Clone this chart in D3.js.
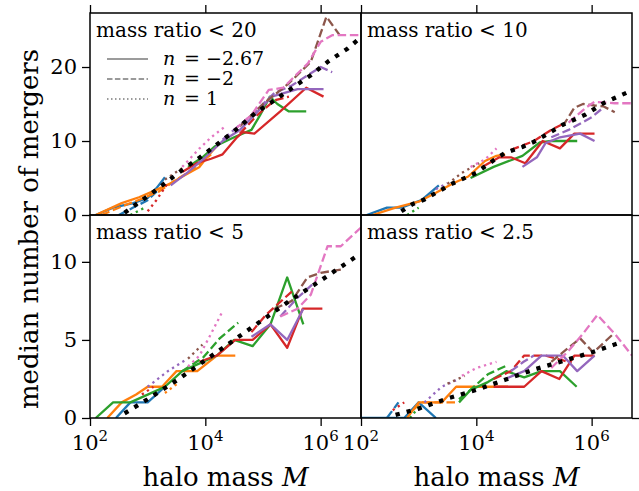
<!DOCTYPE html>
<html><head><meta charset="utf-8">
<script src="https://cdn.jsdelivr.net/npm/d3@7"></script>
<style>body{margin:0;background:#fff} svg{display:block}</style>
</head><body><svg id="c" width="639" height="491"></svg>
<script>
// ---------- data: [log10 M, median number of mergers] ----------
const tl_fit = [[2.6,0.3],[2.83,1.6],[3.15,3.4],[3.3,4.3],[3.62,6.2],[3.91,7.8],[4.23,9.7],[4.56,11.7],[4.87,13.8],[5.18,15.4],[5.53,17.3],[5.83,18.9],[6.14,20.8],[6.47,22.5],[6.65,23.7]];
const tl_blue_solid = [[2.1,0],[2.4,1],[2.75,1.6],[3.0,2.3],[3.15,3.6],[3.3,5.1]];
const tl_blue_dashed = [[2.5,0],[2.75,1],[3.0,2],[3.2,3.5]];
const tl_orange_solid = [[2.1,0],[2.55,1.6],[2.85,2.4],[3.15,3.4],[3.4,4.3],[3.65,5.4],[3.9,6.5],[4.05,8],[4.22,9.5]];
const tl_orange_dashed = [[2.2,0],[2.6,1.3],[2.9,2.2],[3.2,3.2],[3.5,4.8],[3.8,6.2],[4.1,8.2]];
const tl_green_dotted = [[2.7,0],[2.95,1]];
const tl_green_solid = [[3.7,6.5],[3.95,7.8],[4.17,9.3],[4.5,10.5],[4.8,11.5],[4.95,13.5],[5.12,16],[5.25,15],[5.45,14],[5.75,14]];
const tl_red_dotted = [[3.0,0.5],[3.15,2],[3.35,4.3]];
const tl_red_solid = [[3.6,5.8],[3.85,7],[4.1,7.6],[4.3,8.2],[4.55,10.5],[4.65,11.2],[4.85,11],[5.3,14],[5.75,17.2],[6.05,16]];
const tl_red_dashed = [[4.6,11],[4.9,13.5],[5.2,15.5],[5.45,16]];
const tl_purple_solid = [[3.4,4],[3.7,5.8],[4.0,7.8],[4.3,10],[4.6,11.5],[4.85,13.5],[5.15,16],[5.6,17],[6.05,17]];
const tl_purple_dashed = [[4.3,10.2],[4.8,13.5],[5.2,16.5],[5.5,17.5],[5.8,19],[6.0,20],[6.2,19.3]];
const tl_brown_dotted = [[3.3,4.8],[3.65,6.6]];
const tl_brown_dashed = [[4.6,12],[5.0,15],[5.45,17.8],[5.83,20.7],[6.1,26.8],[6.33,24.3]];
const tl_pink_dotted = [[3.6,6.5],[3.9,9],[4.1,10.5],[4.35,12]];
const tl_pink_dashed = [[4.5,11.5],[4.8,13.5],[5.1,16.9],[5.35,17.2],[5.78,20.5],[6.0,23.4],[6.2,24.3],[6.7,24.3]];

const tr_fit = [[2.7,0.5],[2.9,1.5],[3.1,2.1],[3.3,3],[3.6,4.3],[4.0,5.7],[4.3,7.4],[4.5,8.4],[4.8,9.2],[5.0,9.9],[5.2,10.8],[5.5,12.2],[5.9,13.6],[6.2,15.1],[6.6,16.5]];
const tr_blue_solid = [[2.1,0],[2.45,1],[2.7,1],[3.05,2],[3.35,4]];
const tr_orange_solid = [[2.2,0],[2.6,1],[3.0,1.8],[3.3,3],[3.6,4.3],[3.86,5.2],[4.15,7.3],[4.35,8],[4.5,8.2]];
const tr_green_dotted = [[2.8,0],[3.0,1]];
const tr_green_solid = [[3.9,5],[4.3,6.5],[4.8,8],[5.1,9.8],[5.3,10],[5.75,10]];
const tr_red_solid = [[4.1,6.5],[4.4,7.8],[4.6,7.8],[4.85,7],[5.15,10],[5.45,9],[5.7,11],[6.05,11]];
const tr_red_dashed = [[4.6,8.8],[5.0,10],[5.3,11.5],[5.55,12.5]];
const tr_purple_dotted = [[3.3,3.5],[3.5,4.3]];
const tr_purple_solid = [[4.8,6.5],[5.05,7.8],[5.2,9.7],[5.45,10.5],[5.8,11],[6.05,10]];
const tr_purple_dashed = [[5.3,10.5],[5.6,11.5],[6.0,13.2],[6.2,14.5]];
const tr_brown_dotted = [[3.5,4.2],[3.75,5.7],[4.05,7]];
const tr_brown_dashed = [[5.5,12],[5.7,14.5],[5.85,15],[6.05,14.8],[6.2,14.7],[6.4,13.9]];
const tr_pink_dotted = [[3.9,6.5],[4.15,7.5],[4.35,9]];
const tr_pink_dashed = [[5.6,12.5],[5.9,14.5],[6.05,15.3],[6.4,15.1],[6.75,15.1]];

const bl_fit = [[2.6,0.3],[3.0,1.2],[3.5,2.4],[4.0,3.7],[4.5,5.0],[5.0,6.3],[5.5,7.6],[6.0,8.8],[6.6,10.3]];
const bl_green_solid = [[2.1,0],[2.4,1],[2.7,1],[3.0,1.5],[3.3,2],[3.6,3],[3.9,3.5],[4.2,4],[4.5,5],[4.82,4.6],[5.13,6],[5.42,9],[5.7,6]];
const bl_green_dashed = [[3.6,3],[3.97,3.9],[4.25,5.1],[4.57,6.1]];
const bl_blue_solid = [[2.45,0],[2.7,1],[3.0,1],[3.3,2]];
const bl_orange_solid = [[2.3,0],[2.55,1],[2.8,1.5],[3.0,2],[3.25,2],[3.5,3],[3.86,3],[4.2,4],[4.52,4]];
const bl_orange_dotted = [[3.3,1.6],[3.55,2.3]];
const bl_red_dotted = [[2.9,1.5],[3.1,2]];
const bl_red_solid = [[3.9,3.6],[4.2,4],[4.52,5],[4.82,5],[5.13,6],[5.42,4.5],[5.69,7],[6.03,7]];
const bl_red_dashed = [[4.8,5.5],[5.05,6.6],[5.5,8.1]];
const bl_purple_dotted = [[3.0,2],[3.35,3],[3.65,3.7]];
const bl_purple_solid = [[4.8,5.2],[5.13,6],[5.42,5],[5.7,7]];
const bl_purple_dashed = [[5.3,6.5],[5.6,7.7],[5.9,8.7]];
const bl_brown_dotted = [[3.7,3.8],[3.95,4.7]];
const bl_brown_dashed = [[5.2,7],[5.5,7.5],[5.77,9],[6.0,9.3],[6.35,9.5]];
const bl_pink_dotted = [[3.7,3.3],[3.9,4],[4.1,5.4],[4.28,6.7]];
const bl_pink_dashed = [[5.3,6.5],[5.6,7],[5.83,7.9],[6.12,11],[6.35,11],[6.7,12.2]];

const br_fit = [[2.6,0.2],[3.0,0.6],[3.5,1.25],[4.0,1.8],[4.5,2.45],[5.0,3.1],[5.5,3.65],[6.0,4.2],[6.55,4.9]];
const br_blue_solid = [[2.0,0],[2.5,0],[2.75,0],[3.0,1],[3.3,0]];
const br_blue_dashed = [[2.45,0],[2.65,1]];
const br_orange_solid = [[2.8,0],[3.0,1],[3.4,1],[3.65,2],[4.55,2]];
const br_orange_dashed = [[2.9,0.5],[3.05,1],[3.65,1]];
const br_green_dotted = [[2.85,0],[3.0,0.7]];
const br_green_solid = [[3.7,1],[3.9,1.8],[4.2,2.3],[4.52,3],[4.83,2.6],[5.13,3],[5.45,3],[5.74,2]];
const br_green_dashed = [[3.7,1.2],[3.9,1.8],[4.2,2.8],[4.55,3.4]];
const br_red_dotted = [[2.55,0.5],[2.75,1]];
const br_red_solid = [[4.3,2],[4.55,2],[4.83,2],[5.13,3],[5.44,2.5],[5.7,4],[6.05,4]];
const br_red_dashed = [[4.3,2.5],[4.6,3],[4.83,4],[5.2,4],[5.5,3.7],[5.65,3.5]];
const br_purple_dotted = [[3.1,1],[3.4,2],[3.7,2.5]];
const br_purple_solid = [[4.5,2.5],[4.83,3],[5.13,4],[5.5,4],[5.75,3],[6.05,4]];
const br_purple_dashed = [[4.6,3],[4.82,3.6],[5.0,4]];
const br_brown_dotted = [[3.5,2.2],[3.8,2.7]];
const br_brown_dashed = [[5.3,3.6],[5.5,4.2],[5.8,5.1],[6.03,4.2],[6.38,5.4]];
const br_pink_dotted = [[3.75,2.7],[4.0,3.2],[4.35,3.6]];
const br_pink_dashed = [[5.3,3.2],[5.6,4.3],[5.85,5.4],[6.1,6.6],[6.4,5.4],[6.7,4]];

const titles = ["mass ratio < 20", "mass ratio < 10", "mass ratio < 5", "mass ratio < 2.5"];
const xTickVals = [1e2, 1e4, 1e6];
const xTickExp = ["2", "4", "6"];
const yTicksTop = [0, 10, 20];
const yTicksBot = [0, 5, 10];
const legendLabels = ["\u22122.67", "\u22122", "1"];
const legendStyles = ["solid", "dashed", "dotted"];

const colors = {blue:"#1f77b4", orange:"#ff7f0e", green:"#2ca02c", red:"#d62728", purple:"#9467bd", brown:"#8c564b", pink:"#e377c2"};
const dashes = {solid:null, dashed:"8.5,3.7", dotted:"2.3,3.8"};

const panels = [
  {title:titles[0], col:0, row:0, fit:tl_fit, series:[
    ["blue","solid",tl_blue_solid],["blue","dashed",tl_blue_dashed],
    ["orange","solid",tl_orange_solid],["orange","dashed",tl_orange_dashed],
    ["green","dotted",tl_green_dotted],["green","solid",tl_green_solid],
    ["red","dotted",tl_red_dotted],["red","solid",tl_red_solid],["red","dashed",tl_red_dashed],
    ["purple","solid",tl_purple_solid],["purple","dashed",tl_purple_dashed],
    ["brown","dotted",tl_brown_dotted],["brown","dashed",tl_brown_dashed],
    ["pink","dotted",tl_pink_dotted],["pink","dashed",tl_pink_dashed]]},
  {title:titles[1], col:1, row:0, fit:tr_fit, series:[
    ["blue","solid",tr_blue_solid],["orange","solid",tr_orange_solid],
    ["green","dotted",tr_green_dotted],["green","solid",tr_green_solid],
    ["red","solid",tr_red_solid],["red","dashed",tr_red_dashed],
    ["purple","dotted",tr_purple_dotted],["purple","solid",tr_purple_solid],["purple","dashed",tr_purple_dashed],
    ["brown","dotted",tr_brown_dotted],["brown","dashed",tr_brown_dashed],
    ["pink","dotted",tr_pink_dotted],["pink","dashed",tr_pink_dashed]]},
  {title:titles[2], col:0, row:1, fit:bl_fit, series:[
    ["blue","solid",bl_blue_solid],
    ["orange","solid",bl_orange_solid],["orange","dotted",bl_orange_dotted],
    ["green","solid",bl_green_solid],["green","dashed",bl_green_dashed],
    ["red","dotted",bl_red_dotted],["red","solid",bl_red_solid],["red","dashed",bl_red_dashed],
    ["purple","dotted",bl_purple_dotted],["purple","solid",bl_purple_solid],["purple","dashed",bl_purple_dashed],
    ["brown","dotted",bl_brown_dotted],["brown","dashed",bl_brown_dashed],
    ["pink","dotted",bl_pink_dotted],["pink","dashed",bl_pink_dashed]]},
  {title:titles[3], col:1, row:1, fit:br_fit, series:[
    ["blue","solid",br_blue_solid],["blue","dashed",br_blue_dashed],
    ["orange","solid",br_orange_solid],["orange","dashed",br_orange_dashed],
    ["green","dotted",br_green_dotted],["green","solid",br_green_solid],["green","dashed",br_green_dashed],
    ["red","dotted",br_red_dotted],["red","solid",br_red_solid],["red","dashed",br_red_dashed],
    ["purple","dotted",br_purple_dotted],["purple","solid",br_purple_solid],["purple","dashed",br_purple_dashed],
    ["brown","dotted",br_brown_dotted],["brown","dashed",br_brown_dashed],
    ["pink","dotted",br_pink_dotted],["pink","dashed",br_pink_dashed]]}
];

// ---------- layout ----------
const FONT = "DejaVu Serif";
const svg = d3.select("#c");
const colX = [[90, 361], [361, 632]];
const rowY = [[13, 215], [215, 418]];
const xScales = colX.map(r => d3.scaleLog().domain([1e2, Math.pow(10, 6.7)]).range(r));
const yScales = [
  d3.scaleLinear().domain([0, 27.3]).range([rowY[0][1], rowY[0][0]]),
  d3.scaleLinear().domain([0, 13]).range([rowY[1][1], rowY[1][0]])
];
const TICK = 8;

const defs = svg.append("defs");

panels.forEach((p, i) => {
  const x = xScales[p.col], y = yScales[p.row];
  const x0 = colX[p.col][0], x1 = colX[p.col][1];
  const y0 = rowY[p.row][0], y1 = rowY[p.row][1];
  defs.append("clipPath").attr("id", "clip" + i)
    .append("rect").attr("x", x0).attr("y", y0).attr("width", x1 - x0).attr("height", y1 - y0);
  const g = svg.append("g").attr("clip-path", `url(#clip${i})`);
  const line = d3.line().x(d => x(Math.pow(10, d[0]))).y(d => y(d[1]));
  const order = ["blue","orange","green","red","purple","brown","pink"];
  order.forEach(c => {
    p.series.filter(s => s[0] === c).forEach(s => {
      g.append("path").attr("d", line(s[2]))
        .attr("fill", "none").attr("stroke", colors[c])
        .attr("stroke-width", 2.3)
        .attr("stroke-linejoin", "round")
        .attr("stroke-dasharray", dashes[s[1]]);
    });
  });
  g.append("path").attr("d", line(p.fit))
    .attr("fill", "none").attr("stroke", "#000")
    .attr("stroke-width", 4.3).attr("stroke-dasharray", "4.3,7.1");

  // title
  svg.append("text").attr("x", x0 + 6).attr("y", y0 + 24)
    .attr("font-family", FONT).attr("font-size", 20).attr("fill", "#000")
    .text(p.title);

  // y axis (left col on left, right col on right, no labels for right)
  const ticks = p.row === 0 ? yTicksTop : yTicksBot;
  if (p.col === 0) {
    const ax = svg.append("g").attr("transform", `translate(${x0},0)`)
      .call(d3.axisLeft(y).tickValues(ticks).tickSize(TICK).tickPadding(5).tickFormat(d3.format("d")));
    ax.select(".domain").remove();
    ax.selectAll("line").attr("stroke", "#000").attr("stroke-width", 1.3);
    ax.selectAll("text").attr("font-family", FONT).attr("font-size", 21).attr("fill", "#000");
  } else {
    const ax = svg.append("g").attr("transform", `translate(${x1},0)`)
      .call(d3.axisRight(y).tickValues(ticks).tickSize(TICK).tickFormat(""));
    ax.select(".domain").remove();
    ax.selectAll("line").attr("stroke", "#000").attr("stroke-width", 1.3);
  }
  // x ticks: top row -> top edge, bottom row -> bottom edge with labels
  if (p.row === 0) {
    const ax = svg.append("g").attr("transform", `translate(0,${y0})`)
      .call(d3.axisTop(x).tickValues(xTickVals).tickSize(TICK).tickFormat(""));
    ax.select(".domain").remove();
    ax.selectAll("line").attr("stroke", "#000").attr("stroke-width", 1.3);
  } else {
    const ax = svg.append("g").attr("transform", `translate(0,${y1})`)
      .call(d3.axisBottom(x).tickValues(xTickVals).tickSize(TICK).tickFormat(""));
    ax.select(".domain").remove();
    ax.selectAll("line").attr("stroke", "#000").attr("stroke-width", 1.3);
    xTickVals.forEach((v, k) => {
      const t = svg.append("text").attr("x", x(v)).attr("y", 450)
        .attr("text-anchor", "middle").attr("font-family", FONT).attr("font-size", 21).attr("fill", "#000");
      t.append("tspan").text("10");
      t.append("tspan").attr("dy", -9).attr("font-size", 15).text(xTickExp[k]);
    });
    const lab = svg.append("text").attr("x", (x0 + x1) / 2).attr("y", 486)
      .attr("text-anchor", "middle").attr("font-family", FONT).attr("font-size", 26).attr("fill", "#000");
    lab.append("tspan").text("halo mass ");
    lab.append("tspan").attr("font-style", "italic").text("M");
  }
  // frame
  svg.append("rect").attr("x", x0).attr("y", y0).attr("width", x1 - x0).attr("height", y1 - y0)
    .attr("fill", "none").attr("stroke", "#000").attr("stroke-width", 1.5);
});

// legend (top-left panel)
const lg = svg.append("g");
legendStyles.forEach((s, k) => {
  const ly = 59 + k * 20;
  lg.append("line").attr("x1", 107).attr("x2", 148).attr("y1", ly).attr("y2", ly)
    .attr("stroke", "#7a7a7a").attr("stroke-width", 1.5)
    .attr("stroke-dasharray", s === "solid" ? null : (s === "dashed" ? "5.5,2.4" : "1.5,2.5"));
  lg.append("text").attr("x", 163).attr("y", ly + 6)
    .attr("font-family", FONT).attr("font-size", 19).attr("font-style", "italic").attr("fill", "#000")
    .text("n");
  lg.append("text").attr("x", 184).attr("y", ly + 6)
    .attr("font-family", FONT).attr("font-size", 19).attr("fill", "#000")
    .text("= " + legendLabels[k]);
});

// y label
svg.append("text").attr("transform", "translate(38,229) rotate(-90)")
  .attr("text-anchor", "middle").attr("font-family", FONT).attr("font-size", 26).attr("fill", "#000")
  .text("median number of mergers");
</script></body></html>
